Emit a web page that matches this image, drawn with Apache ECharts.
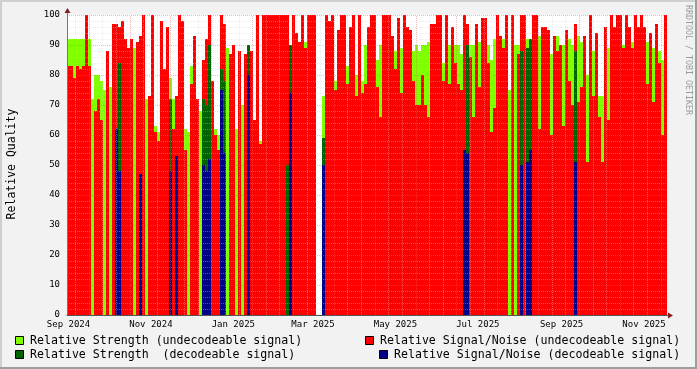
<!DOCTYPE html>
<html><head><meta charset="utf-8">
<script src="https://cdn.jsdelivr.net/npm/echarts@6/dist/echarts.min.js"></script>
<style>html,body{margin:0;padding:0;background:#F2F2F2;overflow:hidden}#c{width:697px;height:369px}</style>
</head><body><div id="c"></div>
<script>
// time base: first bin start and bin width (days)
const START = Date.UTC(2024, 7, 30, 21, 20);
const STEP_DAYS = 2.2206;
const BINS = 200;

// Relative Signal/Noise (undecodeable signal), one value per bin
const snrUndec = [
  83,83,79,83,82,83,100,83,null,68,
  72,65,null,88,null,97,97,96,98,92,
  89,92,null,91,93,100,null,73,100,61,
  58,98,82,96,63,62,73,100,98,55,
  null,77,93,72,null,85,92,100,78,60,
  55,100,97,null,87,90,null,88,null,87,
  82,88,65,100,57,100,100,100,100,100,
  100,100,100,100,null,100,94,91,100,89,
  100,100,100,null,null,null,100,98,100,75,
  95,100,100,77,96,100,73,100,74,77,
  96,100,100,76,66,100,100,100,93,82,
  99,74,100,96,95,78,70,70,80,70,
  66,97,97,100,100,78,100,77,96,84,
  77,75,100,97,86,66,97,76,99,99,
  84,61,69,100,93,89,100,null,100,null,
  87,100,100,86,80,100,100,62,96,96,
  95,60,93,88,90,63,95,78,70,97,
  71,76,93,51,100,73,94,66,51,96,
  65,100,96,100,100,89,100,96,89,100,
  96,100,96,77,94,71,97,84,60,100
];
// Relative Strength (undecodeable signal)
const strUndec = [
  92,92,92,92,92,92,92,92,72,80,
  80,78,75,80,76,70,null,null,null,72,
  75,65,89,70,null,null,72,62,null,63,
  61,null,60,null,79,72,68,null,62,62,
  61,83,70,60,68,80,65,null,67,62,
  60,null,null,89,55,69,62,63,70,60,
  null,null,54,null,58,null,null,null,null,null,
  null,null,null,null,null,null,null,null,null,91,
  null,null,null,null,null,73,null,null,null,78,
  null,null,null,83,null,null,80,null,78,90,
  null,null,null,85,90,null,null,null,null,88,
  null,89,null,null,null,88,90,88,90,90,
  91,null,null,null,null,84,null,90,null,90,
  90,87,null,null,90,90,null,91,90,null,
  90,85,92,null,null,92,null,75,null,90,
  90,null,null,92,92,90,null,93,null,null,
  null,87,null,93,null,90,null,92,90,null,
  93,91,null,80,null,88,null,73,73,null,
  89,null,null,null,null,90,null,null,91,null,
  null,null,null,91,null,89,null,88,85,null
];
// Relative Strength (decodeable signal): [bin, value]
const strDec = [[17,84],[34,72],[45,72],[46,70],[47,90],[51,82],[52,78],[60,90],[73,50],[74,90],[85,59],
  [133,90],[151,88],[153,89],[154,92],[169,88]];
// Relative Signal/Noise (decodeable signal): [bin, value]
const snrDec = [[16,62],[17,48],[24,47],[34,48],[36,53],[45,50],[46,48],[47,52],[51,75],[52,54],[60,80],
  [74,74],[85,50],[132,55],[133,54],[151,50],[153,51],[154,55],[169,51]];

// x-axis labels
const monthTicks = [Date.UTC(2024,8,1),Date.UTC(2024,10,1),Date.UTC(2025,0,1),Date.UTC(2025,2,1),
  Date.UTC(2025,4,1),Date.UTC(2025,6,1),Date.UTC(2025,8,1),Date.UTC(2025,10,1)];
const MONTHS = ['Jan','Feb','Mar','Apr','May','Jun','Jul','Aug','Sep','Oct','Nov','Dec'];
const yTicks = [0,10,20,30,40,50,60,70,80,90,100];
// vertical grid (days after START)
const GRID_FIRST_DAY = 6.2, GRID_STEP_DAYS = 10.08;

const DAY = 86400000;
const STEP = STEP_DAYS * DAY;
const END = START + BINS * STEP;
const tAt = i => START + (i + 0.5) * STEP;
const FONT = '"DejaVu Sans Mono", monospace';

const fromArr = arr => arr.map((v, i) => v == null ? null : [tAt(i), v]).filter(Boolean);
const fromPairs = p => p.map(([i, v]) => [tAt(i), v]);
function bars(name, color, data, extra) {
  return Object.assign({ name, type: 'bar', data, barWidth: 3, barGap: '-100%',
    itemStyle: { color }, silent: true, animation: false }, extra || {});
}

const majorStyle = { color: 'rgba(230,100,100,0.45)', type: [1, 1], width: 1 };
const minorStyle = { color: 'rgba(210,210,210,0.4)', type: [1, 1], width: 1 };
const vLines = [];
for (let n = 0; ; n++) {
  const t = START + (GRID_FIRST_DAY + n * GRID_STEP_DAYS) * DAY;
  if (t >= END) break;
  vLines.push({ xAxis: t, lineStyle: (n % 3 === 1) ? majorStyle : minorStyle });
}

const chart = echarts.init(document.getElementById('c'), null, { renderer: 'canvas', width: 697, height: 369 });
const legendItems = [
  { x: 15, y: 341, tx: 30, color: '#7FFF00', text: 'Relative Strength (undecodeable signal)' },
  { x: 15, y: 355, tx: 30, color: '#006400', text: 'Relative Strength  (decodeable signal)' },
  { x: 365, y: 341, tx: 380, color: '#FF0000', text: 'Relative Signal/Noise (undecodeable signal)' },
  { x: 379, y: 355, tx: 394, color: '#000088', text: 'Relative Signal/Noise (decodeable signal)' }
];
const graphics = [
  { type: 'rect', shape: { x: 0, y: 0, width: 697, height: 2 }, style: { fill: '#CFCFCF' }, silent: true },
  { type: 'rect', shape: { x: 0, y: 0, width: 2, height: 369 }, style: { fill: '#CFCFCF' }, silent: true },
  { type: 'rect', shape: { x: 0, y: 367, width: 697, height: 2 }, style: { fill: '#9E9E9E' }, silent: true },
  { type: 'rect', shape: { x: 695, y: 0, width: 2, height: 369 }, style: { fill: '#9E9E9E' }, silent: true },
  { type: 'line', shape: { x1: 67.5, y1: 12, x2: 67.5, y2: 15 }, style: { stroke: '#777', lineWidth: 1 }, silent: true },
  { type: 'polygon', shape: { points: [[67.5, 8], [64.5, 13], [70.5, 13]] }, style: { fill: '#7F1F1F' }, silent: true },
  { type: 'line', shape: { x1: 667, y1: 315.5, x2: 669, y2: 315.5 }, style: { stroke: '#777', lineWidth: 1 }, silent: true },
  { type: 'polygon', shape: { points: [[673, 315.5], [668, 312.5], [668, 318.5]] }, style: { fill: '#7F1F1F' }, silent: true },
  { type: 'text', x: 12, y: 164, rotation: Math.PI / 2, silent: true,
    style: { text: 'Relative Quality', fontFamily: FONT, fontSize: 11.5, fill: '#000', align: 'center', verticalAlign: 'middle' } },
  { type: 'text', x: 688, y: 5, rotation: -Math.PI / 2, silent: true,
    style: { text: 'RRDTOOL / TOBI OETIKER', fontFamily: FONT, fontSize: 8.3, fill: '#9a9a9a', align: 'left', verticalAlign: 'middle' } }
];
legendItems.forEach(it => {
  graphics.push({ type: 'rect', silent: true, shape: { x: it.x + 0.5, y: it.y - 4.5, width: 8, height: 8 },
    style: { fill: it.color, stroke: '#000', lineWidth: 1 } });
  graphics.push({ type: 'text', silent: true, x: it.tx, y: it.y,
    style: { text: it.text, fontFamily: FONT, fontSize: 11.6, fill: '#000', align: 'left', verticalAlign: 'middle' } });
});

chart.setOption({
  animation: false,
  backgroundColor: '#F2F2F2',
  grid: { left: 67, right: 30, top: 15, bottom: 54, show: true, backgroundColor: '#FFFFFF', borderWidth: 0 },
  xAxis: {
    type: 'value', min: START, max: END, z: 4, scale: true,
    axisLine: { show: true, lineStyle: { color: '#555', width: 1 } },
    axisTick: { show: false },
    splitLine: { show: false },
    axisLabel: {
      customValues: monthTicks, fontFamily: FONT, fontSize: 9, color: '#000', margin: 5, hideOverlap: false,
      formatter: v => { const d = new Date(v); return MONTHS[d.getUTCMonth()] + ' ' + d.getUTCFullYear(); }
    }
  },
  yAxis: {
    type: 'value', min: yTicks[0], max: yTicks[yTicks.length - 1], interval: 10, z: 4,
    axisLine: { show: true, lineStyle: { color: '#777', width: 1 } },
    axisTick: { show: false },
    axisLabel: { fontFamily: FONT, fontSize: 9, color: '#000', margin: 7 },
    splitLine: { show: true, lineStyle: majorStyle },
    minorTick: { show: false, splitNumber: 5 },
    minorSplitLine: { show: true, lineStyle: minorStyle }
  },
  graphic: graphics,
  series: [
    bars('Relative Strength (undecodeable signal)', '#7FFF00', fromArr(strUndec)),
    bars('Relative Signal/Noise (undecodeable signal)', '#FF0000', fromArr(snrUndec)),
    bars('Relative Strength  (decodeable signal)', '#006400', fromPairs(strDec)),
    bars('Relative Signal/Noise (decodeable signal)', '#000088', fromPairs(snrDec), {
      markLine: { silent: true, symbol: ['none', 'none'], label: { show: false }, animation: false, z: 6, data: vLines }
    })
  ]
});
</script>
</body></html>
